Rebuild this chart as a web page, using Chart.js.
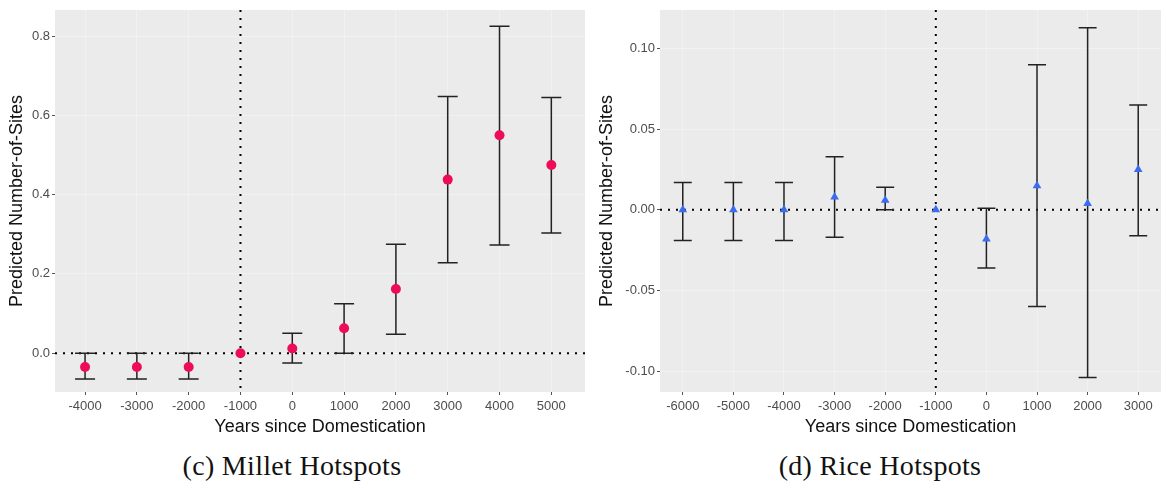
<!DOCTYPE html>
<html>
<head>
<meta charset="utf-8">
<script src="https://cdn.jsdelivr.net/npm/chart.js@4.4.1/dist/chart.umd.min.js"></script>
<style>
  body { margin: 0; background: #fff; width: 1166px; height: 489px; overflow: hidden; position: relative; }
  .panel { position: absolute; top: 0; height: 440px; }
  .caption { position: absolute; top: 450px; font-family: "Liberation Serif", serif; font-size: 28px; letter-spacing: 0.3px; color: #111; text-align: center; }
</style>
</head>
<body>
<div class="panel" style="left:0;width:590px"><canvas id="milletChart"></canvas></div>
<div class="panel" style="left:590px;width:576px"><canvas id="riceChart"></canvas></div>
<div class="caption" style="left:142px;width:300px">(c) Millet Hotspots</div>
<div class="caption" style="left:730px;width:300px">(d) Rice Hotspots</div>
<script>
// millet hotspots (c)
const milletYears = [-4000, -3000, -2000, -1000, 0, 1000, 2000, 3000, 4000, 5000];
const milletFit = [-0.035, -0.035, -0.035, 0, 0.012, 0.063, 0.162, 0.438, 0.55, 0.475];
const milletLow = [-0.065, -0.065, -0.065, null, -0.025, 0.0, 0.048, 0.228, 0.273, 0.303];
const milletHigh = [0.0, 0.0, 0.0, null, 0.05, 0.125, 0.275, 0.648, 0.825, 0.645];
const milletYTicks = [0, 0.2, 0.4, 0.6, 0.8];

// rice hotspots (d)
const riceYears = [-6000, -5000, -4000, -3000, -2000, -1000, 0, 1000, 2000, 3000];
const riceFit = [0, 0, 0, 0.008, 0.006, 0, -0.018, 0.015, 0.004, 0.025];
const riceLow = [-0.019, -0.019, -0.019, -0.017, 0.0, null, -0.036, -0.06, -0.104, -0.016];
const riceHigh = [0.017, 0.017, 0.017, 0.033, 0.014, null, 0.001, 0.09, 0.113, 0.065];
const riceYTicks = [-0.10, -0.05, 0, 0.05, 0.10];

const refYear = -1000;

const panelBg = {
  id: 'panelBg',
  beforeDraw(chart) {
    const { ctx, chartArea: a } = chart;
    ctx.save();
    ctx.fillStyle = '#ebebeb';
    ctx.fillRect(a.left, a.top, a.right - a.left, a.bottom - a.top);
    ctx.restore();
  }
};

const errorBars = {
  id: 'errorBars',
  beforeDatasetsDraw(chart, args, opts) {
    const { ctx, chartArea: a, scales: { x, y } } = chart;
    ctx.save();
    // dotted reference lines
    ctx.strokeStyle = '#000';
    ctx.lineWidth = 2;
    ctx.setLineDash([2, 6]);
    const y0 = y.getPixelForValue(0);
    ctx.beginPath();
    ctx.moveTo(a.left, y0);
    ctx.lineTo(a.right, y0);
    ctx.stroke();
    const xr = x.getPixelForValue(refYear);
    ctx.beginPath();
    ctx.moveTo(xr, a.top);
    ctx.lineTo(xr, a.bottom);
    ctx.stroke();
    ctx.setLineDash([]);
    // error bars
    ctx.strokeStyle = '#222';
    ctx.lineWidth = 1.5;
    opts.xs.forEach((v, i) => {
      if (opts.low[i] == null) return;
      const px = x.getPixelForValue(v);
      const lo = y.getPixelForValue(opts.low[i]);
      const hi = y.getPixelForValue(opts.high[i]);
      ctx.beginPath();
      ctx.moveTo(px, lo); ctx.lineTo(px, hi);
      ctx.moveTo(px - opts.cap, lo); ctx.lineTo(px + opts.cap, lo);
      ctx.moveTo(px - opts.cap, hi); ctx.lineTo(px + opts.cap, hi);
      ctx.stroke();
    });
    ctx.restore();
  }
};

function makeChart(id, cfg) {
  new Chart(document.getElementById(id), {
    type: 'scatter',
    data: {
      datasets: [{
        data: cfg.xs.map((v, i) => ({ x: v, y: cfg.fit[i] })),
        pointStyle: cfg.shape,
        pointRadius: cfg.radius,
        pointBackgroundColor: cfg.color,
        pointBorderColor: cfg.color,
        pointBorderWidth: 0
      }]
    },
    options: {
      animation: false,
      responsive: true,
      maintainAspectRatio: false,
      layout: { padding: { top: 10, right: cfg.padRight, left: 0, bottom: 0 } },
      plugins: {
        legend: { display: false },
        tooltip: { enabled: false },
        errorBars: { xs: cfg.xs, low: cfg.low, high: cfg.high, cap: cfg.cap }
      },
      scales: {
        x: {
          type: 'linear',
          min: cfg.xMin, max: cfg.xMax,
          afterFit: s => { s.height = 48; },
          afterBuildTicks: s => { s.ticks = cfg.xs.map(v => ({ value: v })); },
          border: { display: false },
          grid: { color: 'rgba(255,255,255,0.3)', tickColor: '#555', tickLength: 3 },
          ticks: { font: { family: 'Liberation Sans', size: 13 }, color: '#4d4d4d', padding: 4, maxRotation: 0,
                   callback: v => String(v) },
          title: { display: true, text: 'Years since Domestication', font: { family: 'Liberation Sans', size: 18 },
                   color: '#111', padding: { top: 0, bottom: 2 } }
        },
        y: {
          min: cfg.yMin, max: cfg.yMax,
          afterFit: s => { s.width = cfg.yWidth; },
          afterBuildTicks: s => { s.ticks = cfg.yTicks.map(v => ({ value: v })); },
          border: { display: false },
          grid: { color: 'rgba(255,255,255,0.3)', tickColor: '#555', tickLength: 3 },
          ticks: { font: { family: 'Liberation Sans', size: 13 }, color: '#4d4d4d', padding: 2,
                   callback: v => v.toFixed(cfg.digits) },
          title: { display: true, text: 'Predicted Number-of-Sites', font: { family: 'Liberation Sans', size: 18 },
                   color: '#111', padding: { top: 6, bottom: 4 } }
        }
      }
    },
    plugins: [panelBg, errorBars]
  });
}

makeChart('milletChart', {
  xs: milletYears, fit: milletFit, low: milletLow, high: milletHigh,
  yTicks: milletYTicks, digits: 1, shape: 'circle', color: '#ec0c5a', radius: 5, cap: 10,
  xMin: -4580, xMax: 5650, yMin: -0.098, yMax: 0.866, yWidth: 55, padRight: 5
});

makeChart('riceChart', {
  xs: riceYears, fit: riceFit, low: riceLow, high: riceHigh,
  yTicks: riceYTicks, digits: 2, shape: 'triangle', color: '#3a6cf2', radius: 5, cap: 9,
  xMin: -6450, xMax: 3450, yMin: -0.113, yMax: 0.124, yWidth: 70, padRight: 3
});
</script>
</body>
</html>
